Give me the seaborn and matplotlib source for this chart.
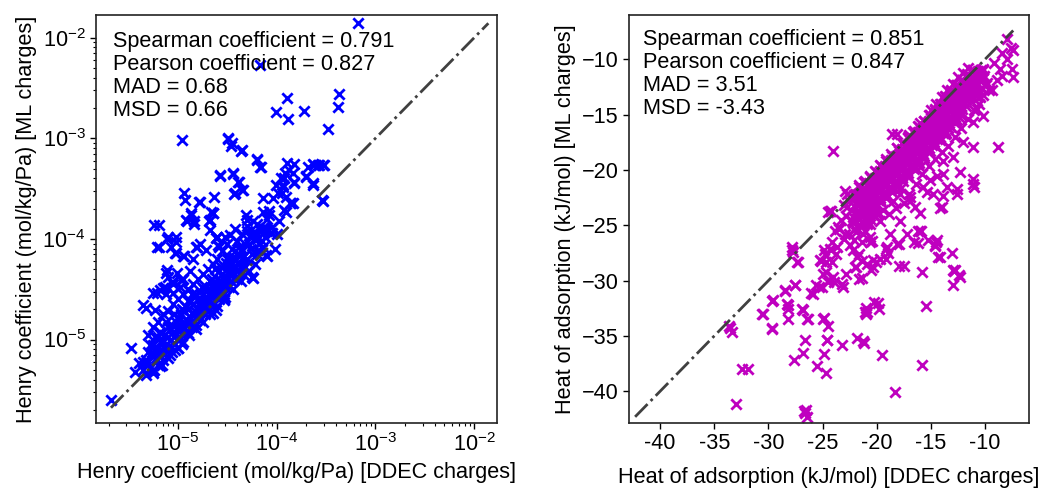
import numpy as np
import matplotlib
matplotlib.use("Agg")
import matplotlib.pyplot as plt
from matplotlib.ticker import LogLocator, NullFormatter
import seaborn as sns

plt.rcParams["font.family"] = ["Liberation Sans", "DejaVu Sans"]
plt.rcParams["mathtext.fontset"] = "custom"
plt.rcParams["mathtext.rm"] = "Liberation Sans"
plt.rcParams["mathtext.it"] = "Liberation Sans:italic"
plt.rcParams["mathtext.bf"] = "Liberation Sans:bold"

# ---------------- Henry coefficients (mol/kg/Pa) ----------------
henry_ddec = [
    6.6e-4, 6.7e-5, 1.26e-4, 9.8e-5, 1.31e-4, 1.89e-4, 4.3e-4, 4.2e-4, 3.29e-4, 1.1e-5,
    3.2e-5, 3.44e-5, 4.4e-5, 6.3e-5, 6.8e-5, 2.64e-5, 3.58e-5, 4.2e-5, 4.5e-5, 3.7e-5,
    1.16e-5, 1.19e-5, 1.64e-5, 2.33e-5, 1.35e-5, 1.25e-5, 1.46e-5, 2.16e-5, 2.07e-5, 5.75e-6,
    6.4e-6, 7.9e-6, 9.5e-6, 2.5e-5, 3.4e-5, 4.9e-5, 5.7e-5, 7.2e-5, 8.3e-5, 7.2e-5,
    6.2e-5, 7.8e-5, 7.2e-5, 9.1e-5, 1.02e-4, 1.15e-4, 1.19e-4, 1.34e-4, 1.51e-4, 1.51e-4,
    1.24e-4, 1.4e-4, 1.24e-4, 2.06e-4, 2.32e-4, 2.6e-4, 2.92e-4, 1.98e-4, 2.32e-4, 2.92e-4,
    9.8e-5, 1.1e-4,
    2.1e-6, 3.34e-6, 3.7e-6, 4.05e-6, 5.55e-6, 4.4e-6, 4.7e-6, 6.5e-6, 9.5e-6, 9.5e-6,
    1.16e-5, 7.6e-6, 8.8e-6, 1.07e-5, 6.2e-6, 7.0e-6, 2.25e-5, 1.52e-5, 1.92e-5, 2.43e-5,
    5.7e-5, 7.8e-5, 8.7e-5, 1.19e-4, 1.45e-4, 2.94e-5, 2.43e-5,
    1.26e-4, 1.47e-4, 1.21e-4, 1.48e-4, 1.17e-4, 1.12e-4, 1.37e-4, 2.86e-4, 2.35e-4, 2.0e-4,
    2.4e-4, 2.7e-4, 3.0e-4, 6.3e-5, 7.0e-5, 3.5e-5, 3.23e-5, 4.5e-5, 3.6e-5, 4.1e-5,
    3.8e-5, 4.6e-5, 2.66e-5, 1.67e-5, 2.28e-5, 1.37e-5, 1.22e-5, 1.45e-5, 2.1e-5, 2.1e-5,
    2.47e-5, 2.56e-5, 1.67e-5, 1.55e-5, 1.13e-5, 8.6e-6, 7.7e-6, 6.1e-6, 9.3e-6, 4.95e-5,
    4.95e-5, 5.8e-5, 6.8e-5, 6.3e-5, 7.9e-5, 8.9e-5, 7.3e-5, 7.9e-5, 6.5e-5, 5.6e-5,
    4.25e-5, 3.6e-5, 4.6e-5, 3.1e-5, 3.9e-5, 2.9e-5, 2.28e-5, 5.85e-6, 5.6e-6, 7.4e-6,
    6.6e-6, 8.0e-6, 7.7e-6, 9.7e-6, 1.09e-5, 1.05e-5, 9.0e-6, 1.27e-5, 1.49e-5, 5.6e-6,
    4.7e-6, 1.0e-5,
    8.91e-6, 1.12e-5, 7.59e-6, 1.32e-5, 1.41e-5,
]
henry_ml = [
    1.39e-2, 5.3e-3, 2.5e-3, 1.84e-3, 1.55e-3, 1.88e-3, 2.75e-3, 2.06e-3, 1.23e-3, 9.7e-4,
    9.8e-4, 8.4e-4, 7.5e-4, 6.2e-4, 5.2e-4, 4.25e-4, 4.4e-4, 3.7e-4, 3.07e-4, 2.78e-4,
    2.85e-4, 2.44e-4, 2.35e-4, 2.63e-4, 1.73e-4, 1.49e-4, 1.4e-4, 1.87e-4, 1.49e-4, 1.38e-4,
    1.36e-4, 1.05e-4, 1.05e-4, 1.05e-4, 1.1e-4, 1.73e-4, 1.49e-4, 1.87e-4, 1.73e-4, 1.28e-4,
    1.14e-4, 1.28e-4, 2.57e-4, 2.53e-4, 2.85e-4, 3.3e-4, 4.0e-4, 4.85e-4, 5.6e-4, 3.7e-4,
    2.63e-4, 2.26e-4, 1.87e-4, 5.2e-4, 5.6e-4, 5.4e-4, 5.4e-4, 4.15e-4, 3.4e-4, 2.39e-4,
    3.4e-4, 4.07e-4,
    2.52e-6, 8.3e-6, 4.8e-6, 5.8e-6, 4.9e-6, 2.2e-5, 2.05e-5, 8.4e-5, 9.4e-5, 7.2e-5,
    6.7e-5, 4.56e-5, 3.77e-5, 3.9e-5, 2.89e-5, 3.24e-5, 1.8e-4, 8.4e-5, 7.8e-5, 1.02e-4,
    4.07e-5, 6.9e-5, 1.14e-4, 1.94e-4, 2.26e-4, 2.48e-5, 1.97e-5,
    5.65e-4, 4.5e-4, 4.5e-4, 3.6e-4, 3.45e-4, 2.85e-4, 2.26e-4, 2.44e-4, 3.6e-4, 4.2e-4,
    5.4e-4, 5.4e-4, 5.4e-4, 6.1e-4, 5.2e-4, 8.9e-4, 1.0e-3, 7.6e-4, 4.5e-4, 3.7e-4,
    2.85e-4, 3.07e-4, 4.3e-4, 2.35e-4, 1.8e-4, 1.8e-4, 1.55e-4, 1.5e-4, 1.55e-4, 1.23e-4,
    1.05e-4, 8.7e-5, 9.0e-5, 8.4e-5, 6.7e-5, 8.4e-5, 1.0e-4, 8.4e-5, 7.2e-5, 1.55e-4,
    1.33e-4, 1.14e-4, 1.23e-4, 1.0e-4, 1.23e-4, 1.14e-4, 8.4e-5, 6.7e-5, 7.8e-5, 4.2e-5,
    6.7e-5, 5.3e-5, 5.3e-5, 5.7e-5, 4.2e-5, 2.5e-5, 1.83e-5, 1.97e-5, 2.9e-5, 3.36e-5,
    3.1e-5, 4.2e-5, 4.9e-5, 4.56e-5, 3.9e-5, 3.36e-5, 2.9e-5, 3.1e-5, 2.67e-5, 5.0e-6,
    5.9e-6, 8.2e-6,
    3.55e-5, 3.98e-5, 2.82e-5, 4.79e-5, 6.31e-5,
]
# dense core of the Henry-coefficient cloud
henry_core_ddec = [
    4.47e-6, 5.01e-6, 5.25e-6, 5.62e-6, 6.03e-6, 6.31e-6, 6.61e-6, 7.08e-6, 7.24e-6, 7.59e-6,
    7.94e-6, 8.32e-6, 8.71e-6, 8.91e-6, 9.55e-6, 1.0e-5, 1.05e-5, 1.07e-5, 1.12e-5, 1.17e-5,
    1.2e-5, 1.26e-5, 1.32e-5, 1.38e-5, 1.41e-5, 1.48e-5, 1.51e-5, 1.58e-5, 1.66e-5, 1.7e-5,
    1.78e-5, 1.86e-5, 1.91e-5, 2.0e-5, 2.09e-5, 2.14e-5, 2.24e-5, 2.34e-5, 2.4e-5, 2.51e-5,
    2.63e-5, 2.69e-5, 2.82e-5, 2.95e-5, 3.02e-5, 3.16e-5, 3.31e-5, 3.39e-5, 3.55e-5, 3.72e-5,
    3.8e-5, 3.98e-5, 4.17e-5, 4.37e-5, 4.47e-5, 4.68e-5, 5.01e-5, 5.25e-5, 5.62e-5, 6.03e-5,
    4.79e-6, 5.75e-6, 6.92e-6, 5.37e-6, 6.17e-6, 6.76e-6, 7.41e-6, 8.13e-6, 9.12e-6, 9.77e-6,
    1.02e-5, 1.1e-5, 1.15e-5, 1.23e-5, 1.29e-5, 1.35e-5, 1.45e-5, 1.55e-5, 1.62e-5, 1.74e-5,
    1.82e-5, 1.95e-5, 2.04e-5, 2.19e-5, 2.29e-5, 2.45e-5, 2.57e-5, 2.75e-5, 2.88e-5, 3.09e-5,
    3.24e-5, 3.47e-5, 3.63e-5,
    2.51e-5, 2.82e-5, 3.16e-5, 2.4e-5, 3.55e-5, 3.98e-5, 4.47e-5, 3.31e-5, 2.63e-5, 3.02e-5,
    3.8e-5, 5.01e-5, 4.17e-5, 5.37e-5,
    5.62e-5, 6.31e-5, 7.08e-5, 7.94e-5, 6.61e-5, 7.59e-5, 8.91e-5, 1.0e-4, 1.05e-4, 8.32e-5,
    9.55e-5,
    5.01e-6, 5.62e-6, 6.31e-6, 7.08e-6, 7.94e-6, 8.91e-6, 1.0e-5, 1.12e-5, 1.26e-5, 1.41e-5,
    1.58e-5, 1.78e-5, 2.0e-5, 2.24e-5,
    5.62e-6, 6.61e-6, 7.94e-6, 9.33e-6, 1.1e-5, 1.29e-5, 1.51e-5, 1.78e-5, 2.09e-5, 2.51e-5,
    3.02e-5, 3.63e-5, 4.37e-5, 5.25e-5,
    4.79e-6, 5.5e-6, 6.46e-6, 6.92e-6, 7.76e-6, 8.51e-6, 9.33e-6, 1.0e-5, 1.15e-5, 1.26e-5,
    1.38e-5, 1.51e-5, 1.66e-5, 1.82e-5, 2.0e-5, 2.19e-5, 2.4e-5, 2.63e-5, 2.88e-5, 3.16e-5,
    3.47e-5, 3.8e-5, 4.17e-5, 4.57e-5, 4.79e-5, 5.5e-5, 6.03e-5, 6.31e-5, 7.08e-5, 7.94e-5,
    5.25e-6, 5.89e-6, 6.31e-6, 7.24e-6, 7.94e-6, 8.71e-6, 1.0e-5, 1.05e-5, 1.17e-5, 1.32e-5,
    1.45e-5, 1.58e-5, 1.74e-5, 1.91e-5, 2.09e-5, 2.29e-5, 2.51e-5, 2.75e-5, 3.02e-5, 3.31e-5,
    3.63e-5, 3.98e-5, 4.37e-5, 4.79e-5,
    4.47e-6, 5.01e-6, 6.03e-6, 6.61e-6, 7.59e-6, 8.32e-6, 9.12e-6, 1.1e-5, 1.2e-5, 1.38e-5,
]
henry_core_ml = [
    6.03e-6, 7.59e-6, 5.25e-6, 8.91e-6, 6.61e-6, 1.05e-5, 7.94e-6, 6.31e-6, 1.12e-5, 8.91e-6,
    1.32e-5, 1.0e-5, 7.59e-6, 1.2e-5, 1.51e-5, 1.0e-5, 1.26e-5, 1.78e-5, 9.55e-6, 1.45e-5,
    2.09e-5, 1.17e-5, 1.66e-5, 1.32e-5, 2.24e-5, 1.91e-5, 1.41e-5, 2.51e-5, 1.58e-5, 2.09e-5,
    2.82e-5, 1.78e-5, 2.34e-5, 3.16e-5, 2.0e-5, 2.63e-5, 3.55e-5, 2.24e-5, 3.02e-5, 3.98e-5,
    2.51e-5, 3.39e-5, 4.47e-5, 2.82e-5, 3.8e-5, 5.01e-5, 3.31e-5, 4.37e-5, 5.62e-5, 3.98e-5,
    6.31e-5, 4.79e-5, 7.08e-5, 5.37e-5, 7.94e-5, 4.37e-5, 6.31e-5, 8.91e-5, 7.08e-5, 5.62e-5,
    4.47e-6, 5.01e-6, 5.62e-6, 7.08e-6, 8.32e-6, 9.55e-6, 7.24e-6, 8.71e-6, 1.05e-5, 1.26e-5,
    1.58e-5, 1.12e-5, 1.91e-5, 1.41e-5, 2.0e-5, 1.51e-5, 1.74e-5, 2.09e-5, 1.91e-5, 2.4e-5,
    2.09e-5, 2.63e-5, 2.4e-5, 3.02e-5, 2.69e-5, 3.47e-5, 3.02e-5, 3.8e-5, 3.39e-5, 4.17e-5,
    3.98e-5, 5.01e-5, 4.68e-5,
    6.31e-5, 7.59e-5, 8.91e-5, 5.01e-5, 7.94e-5, 9.55e-5, 1.12e-4, 6.61e-5, 8.32e-5, 1.05e-4,
    1.26e-4, 1.2e-4, 8.32e-5, 1.05e-4,
    1.12e-4, 1.41e-4, 1.26e-4, 1.58e-4, 8.91e-5, 1.05e-4, 1.32e-4, 1.12e-4, 1.51e-4, 1.91e-4,
    7.94e-5,
    1.12e-5, 1.32e-5, 1.51e-5, 1.78e-5, 1.91e-5, 2.24e-5, 2.51e-5, 2.82e-5, 3.16e-5, 3.55e-5,
    3.98e-5, 4.47e-5, 5.01e-5, 5.62e-5,
    4.68e-6, 5.5e-6, 6.61e-6, 7.94e-6, 9.12e-6, 1.1e-5, 1.26e-5, 1.51e-5, 1.78e-5, 2.14e-5,
    2.63e-5, 3.16e-5, 3.8e-5, 4.79e-5,
    6.31e-6, 7.59e-6, 7.08e-6, 1.0e-5, 7.94e-6, 1.26e-5, 9.12e-6, 1.66e-5, 1.32e-5, 2.4e-5,
    1.82e-5, 2.82e-5, 2.19e-5, 3.16e-5, 2.4e-5, 3.98e-5, 2.75e-5, 4.79e-5, 4.17e-5, 6.31e-5,
    3.8e-5, 5.25e-5, 5.62e-5, 6.61e-5, 8.91e-5, 7.94e-5, 1.0e-4, 7.08e-5, 9.55e-5, 1.2e-4,
    8.91e-6, 1.05e-5, 5.62e-6, 8.32e-6, 1.07e-5, 1.41e-5, 8.32e-6, 1.05e-5, 1.2e-5, 2.4e-5,
    1.51e-5, 1.74e-5, 3.31e-5, 2.0e-5, 3.8e-5, 3.31e-5, 2.63e-5, 5.25e-5, 3.31e-5, 5.62e-5,
    6.61e-5, 3.98e-5, 7.59e-5, 5.25e-5,
    5.01e-6, 6.03e-6, 7.59e-6, 1.2e-5, 1.51e-5, 7.08e-6, 1.78e-5, 2.0e-5, 1.58e-5, 2.82e-5,
]

# ---------------- Heat of adsorption (kJ/mol) ----------------
heat_ddec = [
    -33.5, -33.4, -33.6, -32.4, -31.9, -33.0, -26.5, -26.6, -26.4, -26.7,
    -30.55, -29.7, -29.7, -28.15, -28.2, -28.15, -28.5, -27.56, -26.8, -26.33,
    -26.6, -26.8, -27.6, -24.86, -24.46, -24.55, -24.86, -25.53, -24.7, -23.16,
    -21.84, -21.16, -19.47, -18.33, -15.78, -15.47, -21.0, -20.95, -20.24, -19.78,
    -19.9, -21.1, -15.78, -13.0, -13.0, -12.39, -13.07, -14.15, -14.54, -14.6,
    -14.4, -16.15, -16.55, -15.93, -17.93, -17.93, -17.47, -19.16, -19.16, -20.08,
    -20.54, -21.62, -21.93, -21.62, -22.09, -22.55, -22.85, -23.16, -23.93, -24.4,
    -25.32, -26.08, -25.62, -24.7, -24.7, -25.16, -24.86, -24.24, -23.78, -24.09,
    -23.47, -27.78, -27.8, -27.23, -24.0, -8.82, -11.07, -18.61, -18.15, -24.24,
    -22.76, -23.53, -22.76, -16.0, -14.15, -16.0, -11.07, -11.0, -12.3, -12.6,
    -13.84, -13.53, -15.07, -14.76, -15.69, -16.92, -17.07, -16.0, -17.84, -18.46,
    -19.69, -20.3, -20.92, -21.23, -20.61, -19.69, -18.76, -17.84, -12.0, -12.92,
    -13.84, -11.07, -12.61, -13.84, -14.45, -14.0, -15.38, -16.45,
    -22.9, -24.46, -23.84, -22.9, -22.15, -23.69, -24.77, -25.23, -24.15, -24.92,
    -24.46, -25.07, -25.84, -27.69, -27.38, -22.15, -21.84, -21.07, -20.61, -20.3,
    -20.92, -19.07, -18.15, -17.23, -16.15, -15.23, -14.3, -12.8, -21.23, -20.92,
    -24.6, -24.92, -26.46, -26.92, -28.3, -28.46, -27.53, -29.54, -30.46, -29.69,
    -8.0, -7.6, -7.4, -8.4, -8.0, -9.2, -8.6, -7.5, -8.4, -7.4,
    -8.9, -11.2, -9.8, -9.4, -10.45, -10.76, -10.15, -11.07,
    -21.4, -22.0, -24.0, -23.1, -21.4, -20.3, -19.7, -19.0, -20.4, -24.3,
    -24.3, -22.3, -12.9, -12.3, -17.8, -16.9, -14.6,
]
heat_ml = [
    -34.3, -34.6, -34.1, -38.0, -38.0, -41.1, -41.7, -42.0, -42.3, -41.8,
    -33.05, -31.8, -34.3, -32.24, -32.6, -33.5, -30.95, -30.37, -32.63, -33.5,
    -35.4, -36.5, -37.2, -33.38, -34.13, -35.33, -36.6, -37.74, -38.35, -35.85,
    -35.15, -35.64, -36.69, -40.06, -37.65, -32.33, -33.05, -32.5, -31.94, -32.54,
    -32.0, -32.8, -29.23, -30.43, -29.08, -29.53, -27.48, -27.88, -26.5, -26.8,
    -26.3, -26.6, -26.5, -25.47, -26.67, -28.72, -28.72, -27.12, -28.02, -28.33,
    -29.08, -29.83, -28.78, -27.57, -26.37, -25.77, -29.38, -30.28, -30.13, -29.98,
    -30.58, -31.13, -30.43, -29.23, -28.33, -28.18, -27.27, -27.27, -27.57, -26.52,
    -25.32, -27.27, -27.0, -28.33, -18.25, -17.89, -17.95, -16.74, -16.74, -23.75,
    -22.16, -25.17, -23.37, -23.91, -23.42, -25.47, -21.28, -21.5, -20.2, -22.16,
    -20.35, -21.56, -20.95, -22.16, -21.56, -22.46, -20.66, -19.76, -22.16, -22.76,
    -22.76, -23.96, -24.87, -25.77, -26.07, -24.57, -25.77, -24.57, -17.5, -18.85,
    -19.15, -20.8, -21.71, -22.31, -20.5, -23.37, -22.01, -23.37,
    -21.86, -23.8, -25.47, -25.77, -24.27, -26.98, -27.57, -28.17, -28.33, -29.38,
    -30.13, -30.58, -31.18, -27.43, -28.33, -27.27, -27.88, -25.47, -26.52, -28.17,
    -28.48, -26.98, -26.67, -25.77, -25.47, -26.37, -27.88, -29.0, -35.45, -32.84,
    -35.4, -33.44, -33.44, -32.54, -32.1, -30.88, -30.43, -31.79, -32.99, -34.34,
    -8.2, -9.0, -9.2, -9.4, -10.0, -10.3, -10.9, -10.9, -11.5, -11.6,
    -11.9, -11.0, -12.1, -12.8, -13.44, -14.48, -15.09, -15.69,
    -28.2, -28.8, -29.7, -30.6, -29.8, -28.8, -28.0, -27.5, -26.4, -27.1,
    -23.7, -22.5, -29.1, -29.7, -21.6, -22.8, -26.9,
]
# dense band of the heat-of-adsorption cloud
heat_band_ddec = [
    -22.1, -21.9, -21.6, -21.4, -21.5, -21.1, -20.9, -21.0, -20.8, -20.6,
    -20.4, -20.5, -20.3, -20.1, -19.9, -20.0, -19.8, -19.6, -19.4, -19.5,
    -19.3, -19.6, -19.1, -18.9, -19.0, -18.8, -19.1, -18.6, -18.4, -18.5,
    -18.3, -18.6, -18.1, -17.9, -18.0, -17.8, -18.1, -17.6, -17.4, -17.5,
    -17.3, -17.6, -17.1, -16.9, -17.0, -16.8, -17.1, -16.6, -16.4, -16.5,
    -16.3, -16.6, -16.1, -15.9, -16.0, -15.8, -16.1, -15.6, -15.4, -15.5,
    -15.3, -15.6, -15.1, -14.9, -15.0, -14.8, -15.1, -14.6, -14.4, -14.5,
    -14.3, -14.6, -14.1, -13.9, -14.0, -13.8, -14.1, -13.6, -13.4, -13.5,
    -13.3, -13.6, -13.1, -12.9, -13.0, -12.8, -13.1, -12.6, -12.4, -12.5,
    -12.3, -12.6, -12.1, -11.9, -12.0, -11.8, -11.6, -11.4, -11.5, -11.3,
    -11.1, -10.9, -11.0, -10.8, -10.6, -10.4, -10.5, -10.1, -9.9,
    -21.2, -20.7, -20.2, -19.7, -19.2, -18.7, -18.2, -17.7, -17.2, -16.7,
    -16.2, -15.7, -15.2, -14.7, -14.2, -13.7, -13.2, -12.7, -12.2, -11.7,
    -11.2, -10.7,
    -23.0, -22.6, -22.4, -22.8, -22.2, -21.8, -21.6, -21.9, -23.3, -23.0,
    -22.5, -21.4, -21.0, -20.6, -20.0, -19.4, -18.9, -18.2, -17.5, -17.0,
    -16.4, -15.8, -15.2, -14.6, -14.0, -13.4, -12.8, -12.2, -11.6, -11.0,
    -10.6, -10.2, -9.6,
    -13.0, -12.5, -12.0, -13.5, -14.0, -14.5, -11.6, -15.0, -16.0, -17.0,
    -21.7, -21.8, -21.75,
    -21.2, -21.3, -21.25, -21.2,
    -20.7, -20.8, -20.75, -20.7,
    -20.2, -20.3, -20.25, -20.2,
    -19.7, -19.8, -19.75, -19.7,
    -19.2, -19.3, -19.25, -19.2,
    -18.7, -18.8, -18.75, -18.7,
    -18.2, -18.3, -18.25, -18.2,
    -17.7, -17.8, -17.75, -17.7,
    -17.2, -17.3, -17.25, -17.2,
    -16.7, -16.8, -16.75, -16.7,
    -16.2, -16.3, -16.25, -16.2,
    -15.7, -15.8, -15.75, -15.7,
    -15.2, -15.3, -15.25, -15.2,
    -14.7, -14.8, -14.75, -14.7,
    -14.2, -14.3, -14.25, -14.2,
    -13.7, -13.8, -13.75, -13.7,
    -13.2, -13.3, -13.25, -13.2,
    -12.7, -12.8, -12.75, -12.7,
    -12.2, -12.3, -12.25, -12.2,
    -11.7, -11.8, -11.75,
    -11.2, -11.3, -11.25,
    -10.7, -10.8, -10.75,
    -10.2, -10.3, -10.25,
]
heat_band_ml = [
    -22.3, -23.1, -21.4, -22.2, -23.0, -21.0, -21.8, -22.7, -23.5, -20.6,
    -21.4, -22.1, -23.0, -20.2, -21.0, -21.7, -22.6, -19.6, -20.4, -21.2,
    -22.0, -22.9, -19.2, -19.9, -20.8, -21.6, -22.5, -18.7, -19.5, -20.3,
    -21.1, -22.0, -18.0, -18.9, -19.7, -20.6, -21.5, -17.6, -18.4, -19.2,
    -20.0, -21.0, -17.1, -17.9, -18.7, -19.6, -20.5, -16.5, -17.3, -18.1,
    -19.0, -19.9, -16.1, -16.9, -17.7, -18.5, -19.4, -15.6, -16.4, -17.2,
    -18.0, -18.9, -15.0, -15.8, -16.6, -17.5, -18.3, -14.5, -15.3, -16.1,
    -17.0, -17.8, -14.0, -14.8, -15.6, -16.4, -17.3, -13.4, -14.2, -15.0,
    -15.8, -16.7, -12.8, -13.6, -14.4, -15.2, -16.1, -12.3, -13.1, -13.9,
    -14.7, -15.5, -11.9, -12.6, -13.4, -14.2, -11.4, -12.2, -13.0, -13.8,
    -11.0, -11.8, -12.6, -13.3, -11.2, -12.0, -12.9, -11.5, -12.3,
    -22.5, -21.9, -21.3, -20.8, -20.3, -19.8, -19.3, -18.8, -18.3, -17.8,
    -17.3, -16.8, -16.3, -15.8, -15.3, -14.7, -14.1, -13.5, -13.0, -12.5,
    -12.1, -11.6,
    -23.2, -22.8, -23.6, -24.2, -24.8, -24.0, -25.0, -25.6, -24.5, -26.2,
    -26.8, -26.5, -24.3, -24.9, -24.0, -23.6, -24.0, -23.4, -23.0, -22.2,
    -21.3, -20.4, -19.6, -19.0, -18.4, -17.8, -17.0, -16.2, -15.4, -14.6,
    -14.0, -13.2, -12.8,
    -12.2, -11.6, -11.2, -12.8, -13.4, -14.0, -10.8, -14.6, -15.8, -16.8,
    -22.2, -23.0, -23.7,
    -21.6, -22.4, -23.2, -24.0,
    -21.2, -22.0, -22.8, -23.6,
    -20.7, -21.5, -22.3, -23.1,
    -20.1, -20.9, -21.7, -22.5,
    -19.6, -20.5, -21.3, -22.1,
    -19.1, -19.9, -20.7, -21.5,
    -18.7, -19.5, -20.2, -21.0,
    -18.1, -18.9, -19.7, -20.5,
    -17.7, -18.5, -19.3, -20.1,
    -17.1, -17.9, -18.7, -19.5,
    -16.6, -17.4, -18.2, -19.0,
    -16.2, -17.0, -17.8, -18.6,
    -15.6, -16.4, -17.2, -18.0,
    -15.1, -15.9, -16.7, -17.5,
    -14.6, -15.4, -16.2, -17.0,
    -14.1, -14.9, -15.7, -16.5,
    -13.6, -14.4, -15.2, -16.0,
    -13.1, -13.9, -14.7, -15.5,
    -12.6, -13.4, -14.2, -15.0,
    -12.1, -12.9, -13.7,
    -11.6, -12.4, -13.2,
    -11.3, -12.1, -12.9,
    -11.0, -11.8, -12.6,
]
heat_fill_ddec = [
    -21.9, -21.9, -21.9,
    -21.4, -21.4, -21.4,
    -20.9, -20.9, -20.9, -20.9,
    -20.4, -20.4, -20.4, -20.4,
    -19.9, -19.9, -19.9, -19.9,
    -19.4, -19.4, -19.4, -19.4,
    -18.9, -18.9, -18.9, -18.9,
    -18.4, -18.4, -18.4, -18.4,
    -17.9, -17.9, -17.9, -17.9,
    -17.4, -17.4, -17.4, -17.4,
    -16.9, -16.9, -16.9, -16.9,
    -16.4, -16.4, -16.4, -16.4,
    -15.9, -15.9, -15.9, -15.9,
    -15.4, -15.4, -15.4, -15.4,
    -14.9, -14.9, -14.9, -14.9,
    -14.4, -14.4, -14.4, -14.4,
    -13.9, -13.9, -13.9, -13.9,
    -13.4, -13.4, -13.4, -13.4,
    -12.9, -12.9, -12.9, -12.9,
    -12.4, -12.4, -12.4, -12.4,
    -11.9, -11.9, -11.9,
    -11.4, -11.4, -11.4,
    -10.9, -10.9, -10.9,
    -10.4, -10.4, -10.4,
    -21.65, -21.65, -21.65, -21.65,
    -21.15, -21.15, -21.15, -21.15,
    -20.65, -20.65, -20.65, -20.65, -20.65,
    -20.15, -20.15, -20.15, -20.15, -20.15,
    -19.65, -19.65, -19.65, -19.65, -19.65,
    -19.15, -19.15, -19.15, -19.15, -19.15,
    -18.65, -18.65, -18.65, -18.65, -18.65,
    -18.15, -18.15, -18.15, -18.15, -18.15,
    -17.65, -17.65, -17.65, -17.65, -17.65,
    -17.15, -17.15, -17.15, -17.15, -17.15,
    -16.65, -16.65, -16.65, -16.65, -16.65,
    -16.15, -16.15, -16.15, -16.15, -16.15,
    -15.65, -15.65, -15.65, -15.65, -15.65,
    -15.15, -15.15, -15.15, -15.15, -15.15,
    -14.65, -14.65, -14.65, -14.65, -14.65,
    -14.15, -14.15, -14.15, -14.15, -14.15,
    -13.65, -13.65, -13.65, -13.65, -13.65,
    -13.15, -13.15, -13.15, -13.15,
    -12.65, -12.65, -12.65, -12.65,
    -12.15, -12.15, -12.15, -12.15,
    -11.65, -11.65, -11.65,
    -11.15, -11.15, -11.15,
    -10.65, -10.65,
    -10.15, -10.15,
    -22.3, -21.8, -21.2, -20.6, -22.0, -21.5, -20.9, -20.3, -19.8,
]
heat_fill_ml = [
    -22.3, -23.1, -23.9,
    -21.8, -22.6, -23.4,
    -21.3, -22.1, -22.9, -23.7,
    -20.8, -21.6, -22.4, -23.2,
    -20.3, -21.1, -21.9, -22.7,
    -19.8, -20.6, -21.4, -22.2,
    -19.3, -20.1, -20.9, -21.7,
    -18.8, -19.6, -20.4, -21.2,
    -18.3, -19.1, -19.9, -20.7,
    -17.8, -18.6, -19.4, -20.2,
    -17.3, -18.1, -18.9, -19.7,
    -16.8, -17.6, -18.4, -19.2,
    -16.3, -17.1, -17.9, -18.7,
    -15.8, -16.6, -17.4, -18.2,
    -15.3, -16.1, -16.9, -17.7,
    -14.8, -15.6, -16.4, -17.2,
    -14.3, -15.1, -15.9, -16.7,
    -13.8, -14.6, -15.4, -16.2,
    -13.3, -14.1, -14.9, -15.7,
    -12.8, -13.6, -14.4, -15.2,
    -12.3, -13.1, -13.9,
    -11.8, -12.6, -13.4,
    -11.4, -12.2, -13.0,
    -11.0, -11.8, -12.6,
    -21.55, -22.35, -23.15, -23.95,
    -21.05, -21.85, -22.65, -23.45,
    -20.55, -21.35, -22.15, -22.95, -23.75,
    -20.05, -20.85, -21.65, -22.45, -23.25,
    -19.55, -20.35, -21.15, -21.95, -22.75,
    -19.05, -19.85, -20.65, -21.45, -22.25,
    -18.55, -19.35, -20.15, -20.95, -21.75,
    -18.05, -18.85, -19.65, -20.45, -21.25,
    -17.55, -18.35, -19.15, -19.95, -20.75,
    -17.05, -17.85, -18.65, -19.45, -20.25,
    -16.55, -17.35, -18.15, -18.95, -19.75,
    -16.05, -16.85, -17.65, -18.45, -19.25,
    -15.55, -16.35, -17.15, -17.95, -18.75,
    -15.05, -15.85, -16.65, -17.45, -18.25,
    -14.55, -15.35, -16.15, -16.95, -17.75,
    -14.05, -14.85, -15.65, -16.45, -17.25,
    -13.35, -14.35, -15.15, -15.95, -16.75,
    -12.85, -13.85, -14.65, -15.45,
    -12.35, -13.35, -14.15, -14.95,
    -11.85, -12.85, -13.65, -14.45,
    -11.35, -12.35, -13.15,
    -10.95, -11.85, -12.65,
    -11.05, -11.75,
    -10.85, -11.65,
    -24.6, -24.3, -24.9, -24.4, -25.3, -25.0, -24.6, -24.1, -23.9,
]

heat_xticks = [-40, -35, -30, -25, -20, -15, -10]
heat_xticklabels = ["-40", "-35", "-30", "-25", "-20", "-15", "-10"]

stats_henry = ["Spearman coefficient = 0.791", "Pearson coefficient = 0.827",
               "MAD = 0.68", "MSD = 0.66"]
stats_heat = ["Spearman coefficient = 0.851", "Pearson coefficient = 0.847",
              "MAD = 3.51", "MSD = -3.43"]

FS = 15.6

all_henry_x = henry_ddec + henry_core_ddec
all_henry_y = henry_ml + henry_core_ml
all_heat_x = heat_ddec + heat_band_ddec + heat_fill_ddec
all_heat_y = heat_ml + heat_band_ml + heat_fill_ml

fig = plt.figure(figsize=(10.43, 4.90), dpi=100)
ax1 = fig.add_axes([0.0920, 0.1367, 0.3845, 0.8327])
ax2 = fig.add_axes([0.6031, 0.1367, 0.3835, 0.8327])

# ---- left: Henry coefficient ----
sns.scatterplot(x=all_henry_x, y=all_henry_y, marker="x", color="#0000ff",
                s=55, linewidth=2.0, ax=ax1, legend=False, zorder=2)
lo = min(min(all_henry_x), min(all_henry_y))
hi = max(max(all_henry_x), max(all_henry_y))
ax1.plot([lo, hi], [lo, hi], linestyle="-.", color="#404040", lw=2.0, zorder=3)
ax1.set_xscale("log")
ax1.set_yscale("log")
ax1.set_xlim(1.48e-6, 1.7e-2)
ax1.set_ylim(1.48e-6, 1.68e-2)
for axis in (ax1.xaxis, ax1.yaxis):
    axis.set_major_locator(LogLocator(base=10, numticks=12))
    axis.set_minor_locator(LogLocator(base=10, subs=np.arange(2, 10), numticks=12))
    axis.set_minor_formatter(NullFormatter())
ax1.set_xlabel("Henry coefficient (mol/kg/Pa) [DDEC charges]", fontsize=FS)
ax1.set_ylabel("Henry coefficient (mol/kg/Pa) [ML charges]", fontsize=FS)
for i, t in enumerate(stats_henry):
    ax1.text(0.042, 0.922 - i * 0.0565, t, transform=ax1.transAxes,
             fontsize=FS, va="baseline", ha="left")

# ---- right: heat of adsorption ----
sns.scatterplot(x=all_heat_x, y=all_heat_y, marker="x", color="#bf00bf",
                s=55, linewidth=2.0, ax=ax2, legend=False, zorder=2)
lo2 = min(min(all_heat_x), min(all_heat_y))
hi2 = max(max(all_heat_x), max(all_heat_y))
ax2.plot([lo2, hi2], [lo2, hi2], linestyle="-.", color="#404040", lw=2.0, zorder=3)
ax2.set_xlim(-42.86, -5.94)
ax2.set_ylim(-42.86, -6.0)
ax2.set_xticks(heat_xticks)
ax2.set_xticklabels(heat_xticklabels)
ax2.set_xlabel("Heat of adsorption (kJ/mol) [DDEC charges]", fontsize=FS, labelpad=9)
ax2.set_ylabel("Heat of adsorption (kJ/mol) [ML charges]", fontsize=FS)
for i, t in enumerate(stats_heat):
    ax2.text(0.036, 0.926 - i * 0.0565, t, transform=ax2.transAxes,
             fontsize=FS, va="baseline", ha="left")

for ax in (ax1, ax2):
    ax.tick_params(axis="both", which="major", labelsize=FS, length=4, width=1)
    ax.tick_params(axis="both", which="minor", length=2.5, width=0.8)
    for sp in ax.spines.values():
        sp.set_linewidth(1.2)
        sp.set_color("#222222")

fig.savefig("out.png", dpi=100)
